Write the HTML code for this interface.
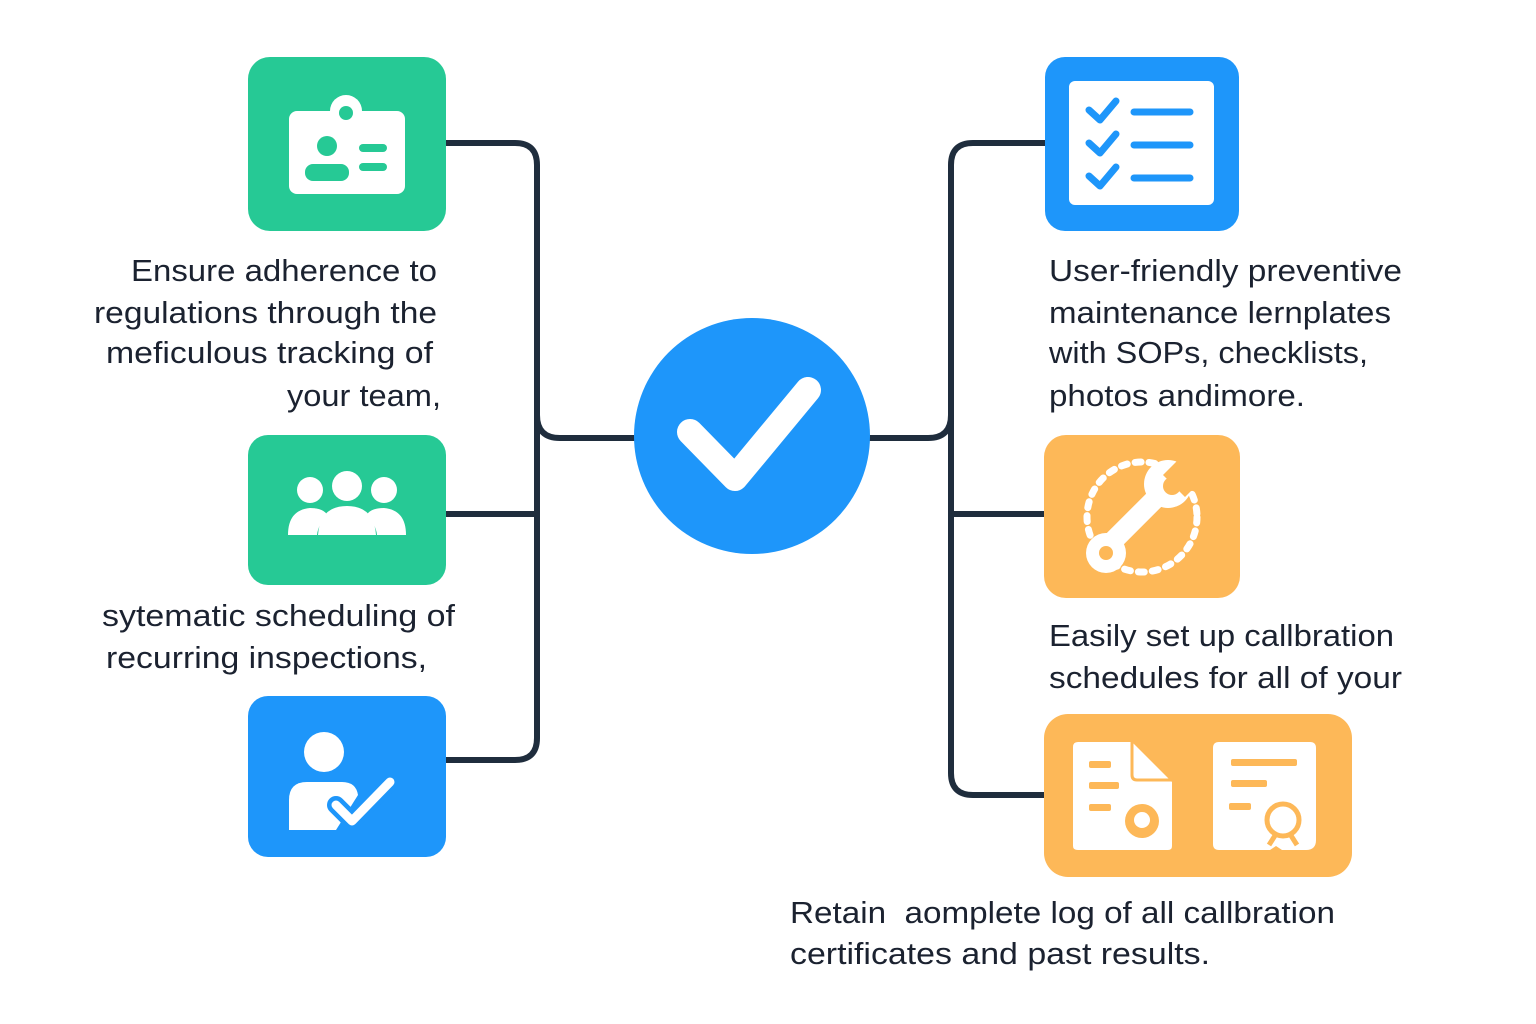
<!DOCTYPE html>
<html><head><meta charset="utf-8"><style>
body{margin:0;background:#fff}
svg{display:block}
text{font-family:"Liberation Sans",sans-serif;font-size:31px;fill:#1b2230}
</style></head><body>
<svg width="1536" height="1024" viewBox="0 0 1536 1024">
<g fill="none" stroke="#1f2d3d" stroke-width="6">
<path d="M445 143 H515 Q537 143 537 165 V738 Q537 760 515 760 H445"/>
<path d="M445 514 H537"/>
<path d="M537 415 Q537 438 560 438 H640"/>
<path d="M1045 143 H973 Q951 143 951 165 V773 Q951 795 973 795 H1044"/>
<path d="M951 514 H1044"/>
<path d="M951 415 Q951 438 928 438 H865"/>
</g>
<circle cx="752" cy="436" r="118" fill="#1E96FA"/>
<path d="M690 432 L735 478 L808 390" fill="none" stroke="#fff" stroke-width="26" stroke-linecap="round" stroke-linejoin="round"/>
<rect x="248" y="57" width="198" height="174" rx="22" fill="#26C995"/>
<rect x="289" y="111" width="116" height="83" rx="8" fill="#fff"/>
<circle cx="346" cy="111" r="16" fill="#fff"/>
<circle cx="346" cy="113" r="7" fill="#26C995"/>
<circle cx="327" cy="146" r="10" fill="#26C995"/>
<rect x="305" y="164" width="44" height="17" rx="8" fill="#26C995"/>
<rect x="359" y="144" width="28" height="8" rx="4" fill="#26C995"/>
<rect x="359" y="163" width="28" height="8" rx="4" fill="#26C995"/>
<rect x="248" y="435" width="198" height="150" rx="20" fill="#26C995"/>
<g fill="#fff">
<circle cx="310" cy="490" r="13"/><circle cx="347" cy="486" r="15"/><circle cx="384" cy="490" r="13"/>
<path d="M288 535 Q288 510 310 508 Q324 508 328 516 Q318 524 317 535Z"/>
<path d="M406 535 Q406 510 384 508 Q370 508 366 516 Q376 524 377 535Z"/>
<path d="M318 535 Q320 506 347 506 Q374 506 376 535Z"/>
</g>
<rect x="248" y="696" width="198" height="161" rx="20" fill="#1E96FA"/>
<circle cx="324" cy="752" r="20" fill="#fff"/>
<path d="M289 830 V800 Q289 782 307 782 H342 Q356 782 358 795 L336 830Z" fill="#fff"/>
<path d="M336 805 L352 821 L390 782" fill="none" stroke="#1E96FA" stroke-width="18" stroke-linecap="round" stroke-linejoin="round"/>
<path d="M336 805 L352 821 L390 782" fill="none" stroke="#fff" stroke-width="9" stroke-linecap="round" stroke-linejoin="round"/>
<rect x="1045" y="57" width="194" height="174" rx="20" fill="#1E96FA"/>
<rect x="1069" y="81" width="145" height="124" rx="6" fill="#fff"/>
<g fill="none" stroke="#1E96FA" stroke-width="7" stroke-linecap="round" stroke-linejoin="round">
<path d="M1089 110 L1100 120 L1116 101"/><path d="M1089 143 L1100 153 L1116 134"/><path d="M1089 176 L1100 186 L1116 167"/>
<path d="M1134 112 H1190"/><path d="M1134 145 H1190"/><path d="M1134 178 H1190"/>
</g>
<rect x="1044" y="435" width="196" height="163" rx="22" fill="#FDB858"/>
<circle cx="1142" cy="517" r="55" fill="none" stroke="#fff" stroke-width="7" stroke-dasharray="6 8" stroke-linecap="round"/>
<rect x="1120" y="455" width="90" height="45" fill="#FDB858" transform="rotate(-45 1165 477)" opacity="0"/>
<path d="M1102 552 L1160 494" stroke="#fff" stroke-width="20" stroke-linecap="round"/>
<circle cx="1106" cy="553" r="20" fill="#fff"/>
<circle cx="1106" cy="553" r="7" fill="#FDB858"/>
<circle cx="1168" cy="484" r="24" fill="#fff"/>
<path d="M1163 475 L1181 457 L1203 479 L1185 497 Z" fill="#FDB858"/>
<circle cx="1172" cy="486" r="9" fill="#FDB858"/>
<rect x="1044" y="714" width="308" height="163" rx="24" fill="#FDB858"/>
<path d="M1073 747 Q1073 742 1078 742 H1132 L1172 782 V846 Q1172 850 1168 850 H1078 Q1073 850 1073 846Z" fill="#fff"/>
<path d="M1132 742 V775 Q1132 780 1137 780 H1172" fill="none" stroke="#FDB858" stroke-width="3"/>
<g fill="#FDB858"><rect x="1089" y="761" width="22" height="7" rx="2"/><rect x="1089" y="782" width="30" height="7" rx="2"/><rect x="1089" y="804" width="22" height="7" rx="2"/></g>
<circle cx="1142" cy="821" r="17" fill="#FDB858"/><circle cx="1142" cy="820" r="8" fill="#fff"/>
<path d="M1213 748 Q1213 742 1219 742 H1310 Q1316 742 1316 748 V840 Q1316 850 1306 850 H1282 L1276 846 L1270 850 H1219 Q1213 850 1213 844Z" fill="#fff"/>
<g fill="#FDB858"><rect x="1231" y="759" width="66" height="7" rx="2"/><rect x="1231" y="780" width="36" height="7" rx="2"/><rect x="1229" y="803" width="22" height="7" rx="2"/></g>
<circle cx="1283" cy="820" r="16" fill="none" stroke="#FDB858" stroke-width="5"/>
<path d="M1276 834 L1269 845 M1290 834 L1297 845" stroke="#FDB858" stroke-width="5"/>
<g lengthAdjust="spacingAndGlyphs">
<text x="131" y="281" textLength="306" lengthAdjust="spacingAndGlyphs">Ensure adherence to</text>
<text x="94" y="323" textLength="343" lengthAdjust="spacingAndGlyphs">regulations through the</text>
<text x="106" y="363" textLength="327" lengthAdjust="spacingAndGlyphs">meficulous tracking of</text>
<text x="287" y="406" textLength="154" lengthAdjust="spacingAndGlyphs">your team,</text>
<text x="102" y="626" textLength="353" lengthAdjust="spacingAndGlyphs">sytematic scheduling of</text>
<text x="106" y="668" textLength="321" lengthAdjust="spacingAndGlyphs">recurring inspections,</text>
<text x="1049" y="281" textLength="353" lengthAdjust="spacingAndGlyphs">User-friendly preventive</text>
<text x="1049" y="323" textLength="342" lengthAdjust="spacingAndGlyphs">maintenance lernplates</text>
<text x="1049" y="363" textLength="319" lengthAdjust="spacingAndGlyphs">with SOPs, checklists,</text>
<text x="1049" y="406" textLength="256" lengthAdjust="spacingAndGlyphs">photos andimore.</text>
<text x="1049" y="646" textLength="345" lengthAdjust="spacingAndGlyphs">Easily set up callbration</text>
<text x="1049" y="688" textLength="353" lengthAdjust="spacingAndGlyphs">schedules for all of your</text>
<text x="790" y="923" textLength="545" lengthAdjust="spacingAndGlyphs" xml:space="preserve">Retain  aomplete log of all callbration</text>
<text x="790" y="964" textLength="420" lengthAdjust="spacingAndGlyphs">certificates and past results.</text>
</g>
</svg>
</body></html>
